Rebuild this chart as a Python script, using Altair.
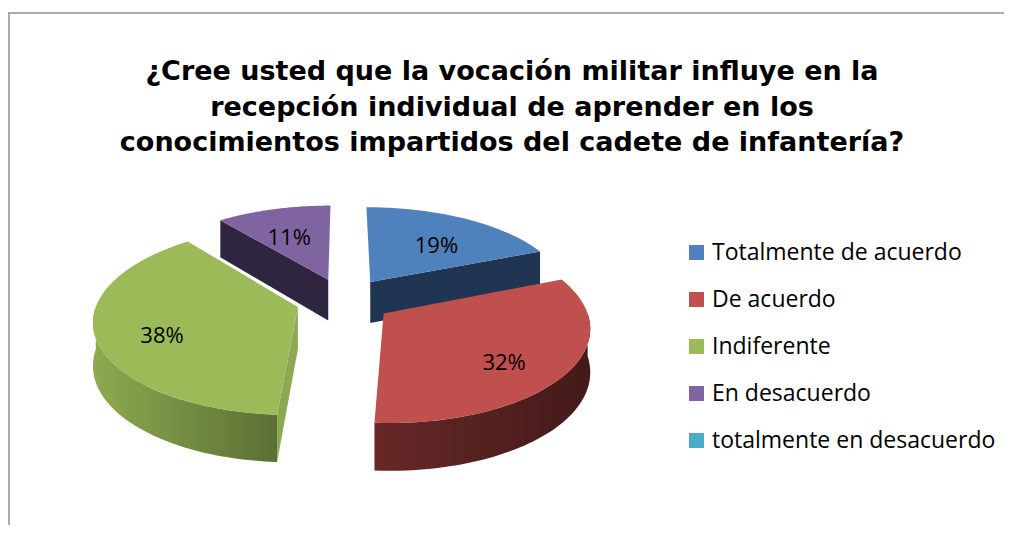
import altair as alt
import pandas as pd

# ---- data ----
categories = ["Totalmente de acuerdo", "De acuerdo", "Indiferente",
              "En desacuerdo", "totalmente en desacuerdo"]
values = [19, 32, 38, 11, 0]
title_lines = ["¿Cree usted que la vocación militar influye en la",
               "recepción individual de aprender en los",
               "conocimientos impartidos del cadete de infantería?"]

# ---- styles ----
top_colors = ["#4F81BD", "#C0504D", "#9BBB59", "#8064A2", "#4BACC6"]
wall_colors = ["#2A4466", "#672827", "#8DAA50", "#3A2D4C", "#2C6F80"]
face_colors = ["#1F3552", "#5A2120", "#8CA852", "#302540", "#1D5664"]

W, H = 996, 517
PTOP = 170
CX, CY = 336, 292          # pie centre (chart px)
RX, RY = 200, 93           # ellipse radii
P = 0.14                   # perspective
E = 0.24                   # explode distance
N = 60                     # arc resolution
LABEL_FONT = "Open Sans"

df = pd.DataFrame({"cat": categories, "value": values, "order": list(range(len(categories)))})

xs = alt.Scale(domain=[0, W], nice=False, zero=False)
ys = alt.Scale(domain=[PTOP, H], nice=False, zero=False, reverse=True)


def base():
    return (alt.Chart(df)
            .transform_window(cum="sum(value)", sort=[alt.SortField("order")])
            .transform_joinaggregate(total="sum(value)")
            .transform_calculate(
                a0="2*PI*(datum.cum - datum.value)/datum.total",
                a1="2*PI*datum.cum/datum.total")
            .transform_calculate(m="(datum.a0 + datum.a1)/2")
            .transform_filter("datum.value > 0"))


def project(ch):
    return (ch.transform_calculate(
                u=f"datum.r*sin(datum.a) + {E}*sin(datum.m)",
                v=f"datum.r*cos(datum.a) + {E}*cos(datum.m)")
            .transform_calculate(
                px=f"{CX} + {RX}*datum.u*(1 - {P}*datum.v)",
                py=f"{CY} - {RY}*datum.v*(1 - {P}*datum.v) + datum.bot*(42 - 5*datum.v)"))


enc_xy = dict(x=alt.X("px:Q", scale=xs, axis=None),
              y=alt.Y("py:Q", scale=ys, axis=None))

# outer walls (visible near half)
walls_src = project(
    base()
    .transform_calculate(w0="max(datum.a0, PI/2)", w1="min(datum.a1, 3*PI/2)")
    .transform_filter("datum.w1 > datum.w0")
    .transform_calculate(idx=f"sequence(0, {2*N+2})")
    .transform_flatten(["idx"])
    .transform_calculate(
        a=f"datum.idx <= {N} ? datum.w0 + (datum.w1 - datum.w0)*datum.idx/{N} : "
          f"datum.w1 - (datum.w1 - datum.w0)*(datum.idx - {N+1})/{N}",
        r="1",
        bot=f"datum.idx > {N} ? 1 : 0")
)
walls = walls_src.mark_line(interpolate="linear-closed", strokeOpacity=0).encode(
    **enc_xy, order="idx:Q", detail="cat:N",
    fill=alt.Fill("cat:N", scale=alt.Scale(domain=categories, range=wall_colors), legend=None))
walls_shade = walls_src.mark_line(
    interpolate="linear-closed", strokeOpacity=0,
    fill=alt.Gradient(gradient="linear", x1=0, x2=1, y1=0, y2=0,
                      stops=[alt.GradientStop(color="rgba(0,0,0,0)", offset=0),
                             alt.GradientStop(color="rgba(0,0,0,0.35)", offset=1)])
).encode(**enc_xy, order="idx:Q", detail="cat:N")

# radial cut faces that look towards the viewer
faces = project(
    base()
    .transform_calculate(face="[0, 1]")
    .transform_flatten(["face"])
    .transform_filter("datum.face == 0 ? sin(datum.a0) < -1e-9 : sin(datum.a1) > 1e-9")
    .transform_calculate(idx="sequence(0, 4)")
    .transform_flatten(["idx"])
    .transform_calculate(
        a="datum.face == 0 ? datum.a0 : datum.a1",
        r="(datum.idx == 1 || datum.idx == 2) ? 1 : 0",
        bot="datum.idx >= 2 ? 1 : 0")
).mark_line(interpolate="linear-closed", strokeOpacity=0).encode(
    **enc_xy, order="idx:Q", detail=["cat:N", "face:N"],
    fill=alt.Fill("cat:N", scale=alt.Scale(domain=categories, range=face_colors), legend=None))

# top faces
tops = project(
    base()
    .transform_calculate(idx=f"sequence(0, {N+2})")
    .transform_flatten(["idx"])
    .transform_calculate(
        a=f"datum.a0 + (datum.a1 - datum.a0)*max(datum.idx - 1, 0)/{N}",
        r="datum.idx == 0 ? 0 : 1",
        bot="0")
).mark_line(interpolate="linear-closed", strokeOpacity=0).encode(
    **enc_xy, order="idx:Q", detail="cat:N",
    fill=alt.Fill("cat:N", scale=alt.Scale(domain=categories, range=top_colors), legend=None))

# percentage labels
labels = project(
    base().transform_calculate(a="datum.m", r="0.68", bot="0",
                               lab="datum.value + '%'")
).mark_text(font=LABEL_FONT, fontSize=22, color="#000000", dy=9).encode(
    **enc_xy, text="lab:N")

# legend carrier (invisible squares)
legend_layer = project(
    base().transform_calculate(a="datum.m", r="0.68", bot="0")
).mark_square(opacity=0, size=10).encode(
    **enc_xy,
    fill=alt.Fill("cat:N", scale=alt.Scale(domain=categories, range=top_colors),
                  legend=alt.Legend(title=None, orient="none", legendX=677, legendY=233 - PTOP,
                                    symbolType="square", symbolSize=225, symbolOpacity=1,
                                    symbolStrokeWidth=0, labelFont=LABEL_FONT,
                                    labelFontSize=23, labelColor="#000000", labelOffset=4,
                                    rowPadding=23, padding=0, labelLimit=400)))

# chart border (top and left edges of the chart frame)
one = pd.DataFrame({"k": [0]})
border_top = alt.Chart(one).mark_rule(color="#8E8E8E", strokeWidth=1.5).encode(
    x=alt.value(0), x2=alt.value(W), y=alt.value(5 - PTOP))
border_left = alt.Chart(one).mark_rule(color="#8E8E8E", strokeWidth=1.5).encode(
    x=alt.value(1), y=alt.value(5 - PTOP), y2=alt.value(H - PTOP))

chart = alt.layer(
    walls, walls_shade, faces, tops, labels, legend_layer, border_top, border_left
).resolve_scale(fill="independent").properties(
    width=W, height=H - PTOP,
    autosize=alt.AutoSizeParams(type="none"),
    padding={"left": 0, "top": PTOP, "right": 0, "bottom": 0},
    title=alt.TitleParams(text=title_lines, font="DejaVu Sans", fontSize=27,
                          fontWeight="bold", color="#000000", lineHeight=35.5,
                          anchor="middle", offset=-145, dx=6),
).configure_view(strokeWidth=0)

chart.save("out.html", embed_options={"renderer": "svg", "actions": False})
